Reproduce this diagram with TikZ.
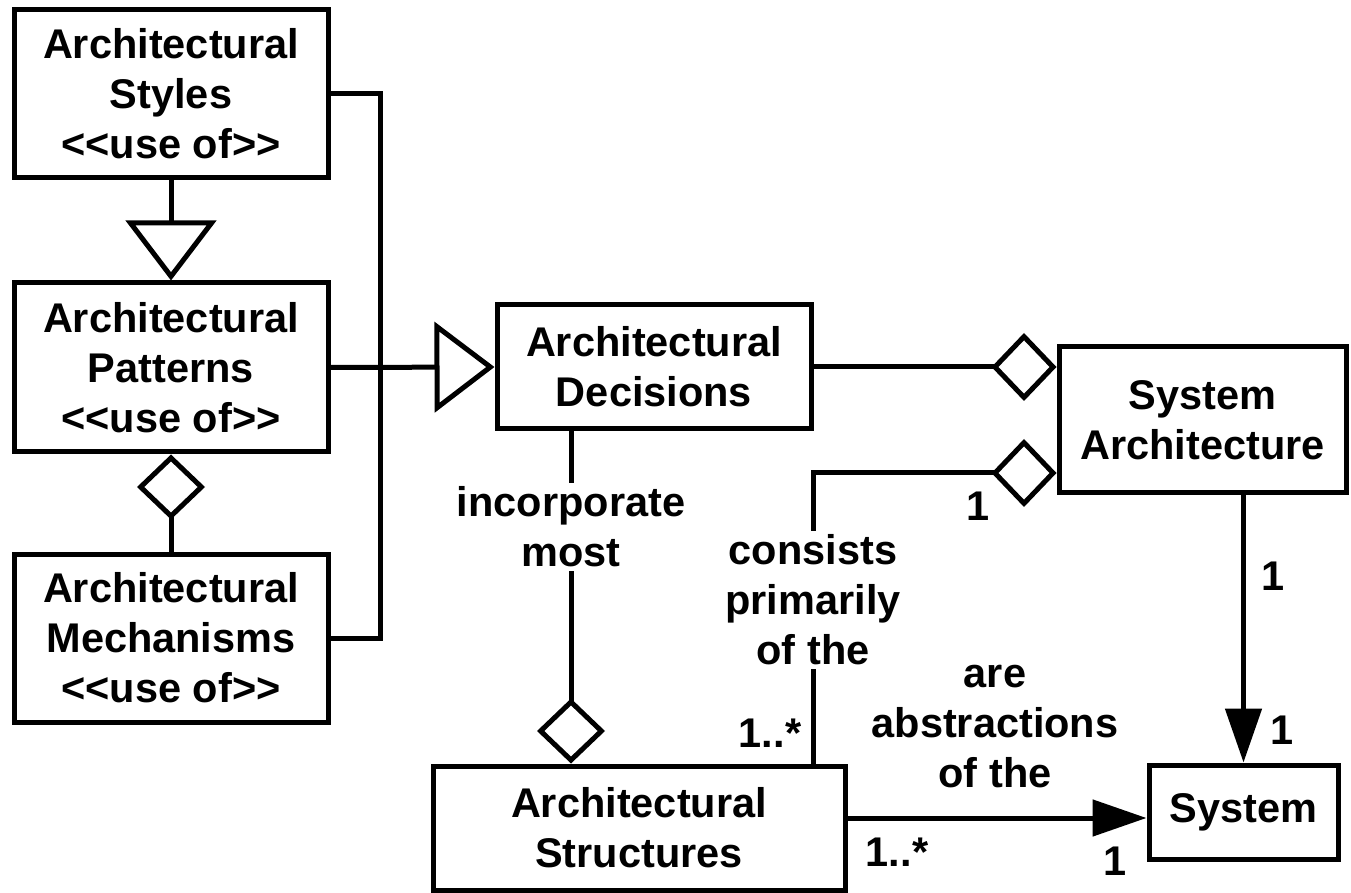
\documentclass[tikz,border=0pt]{standalone}
\usepackage{fontspec}
\setmainfont{Liberation Sans}
\usetikzlibrary{arrows.meta}
\begin{document}
\begin{tikzpicture}[x=0.5pt,y=-0.5pt, line width=2.5pt,
  every node/.style={font=\fontsize{20.75pt}{25pt}\selectfont\bfseries, align=center},
  box/.style={draw, line width=2.5pt, inner sep=0pt},
  lbl/.style={fill=white, inner sep=2pt},
  gen/.style={-{Triangle[open,length=30pt,width=45pt]}},
  agg/.style={-{Diamond[open,length=32.5pt,width=34pt]}},
  nav/.style={-{Triangle[length=27pt,width=18pt]}}]
\useasboundingbox (0,0) rectangle (1351,893);
% boxes
\node[box, minimum width=157pt, minimum height=84pt] (styles) at (171,94) {Architectural\\Styles\\<{}<use of>{}>};
\node[box, minimum width=157pt, minimum height=84.5pt] (patterns) at (171,367.5) {Architectural\\Patterns\\<{}<use of>{}>};
\node[box, minimum width=157pt, minimum height=84pt] (mech) at (171,638) {Architectural\\Mechanisms\\<{}<use of>{}>};
\node[box, minimum width=157pt, minimum height=62pt] (decisions) at (654,367) {Architectural\\Decisions};
\node[box, minimum width=143.5pt, minimum height=73pt] (sysarch) at (1202.5,420) {System\\Architecture};
\node[box, minimum width=94.5pt, minimum height=47pt] (system) at (1243.5,812) {System};
\node[box, minimum width=206pt, minimum height=62pt] (structures) at (639,828) {Architectural\\Structures};
% helper coordinates
\coordinate (bus) at (380,367);
\coordinate (dx) at (571,0);
\coordinate (cx) at (813,0);
\coordinate (cy) at (0,473);
\coordinate (ay) at (0,818);
% connectors
\draw (styles.east) -| (bus);
\draw (mech.east) -| (bus);
\draw[gen] (patterns.east) -- (decisions.west);
\draw[gen] (styles) -- (patterns);
\draw[agg] (mech) -- (patterns);
\draw[agg] (decisions.east) -- (decisions.east -| sysarch.west);
\draw[agg] (decisions.south -| dx) -- (structures.north -| dx);
\draw[agg] (structures.north -| cx) |- (sysarch.west |- cy);
\draw[nav] (sysarch.south -| system.north) -- (system.north);
\draw[nav] (structures.east |- ay) -- (system.west |- ay);
% labels
\node[lbl] (incorp) at (571,527) {incorporate\\most};
\node[lbl] (consists) at (813,600) {consists\\primarily\\of the};
\node (abs) at (995,727) {are\\abstractions\\of the};
\node (m1) at (978,506) {1};
\node (m2) at (770,733) {1..*};
\node (m3) at (1273,576) {1};
\node (m4) at (1282,730) {1};
\node (m5) at (897,852) {1..*};
\node (m6) at (1115,861) {1};
\end{tikzpicture}
\end{document}
